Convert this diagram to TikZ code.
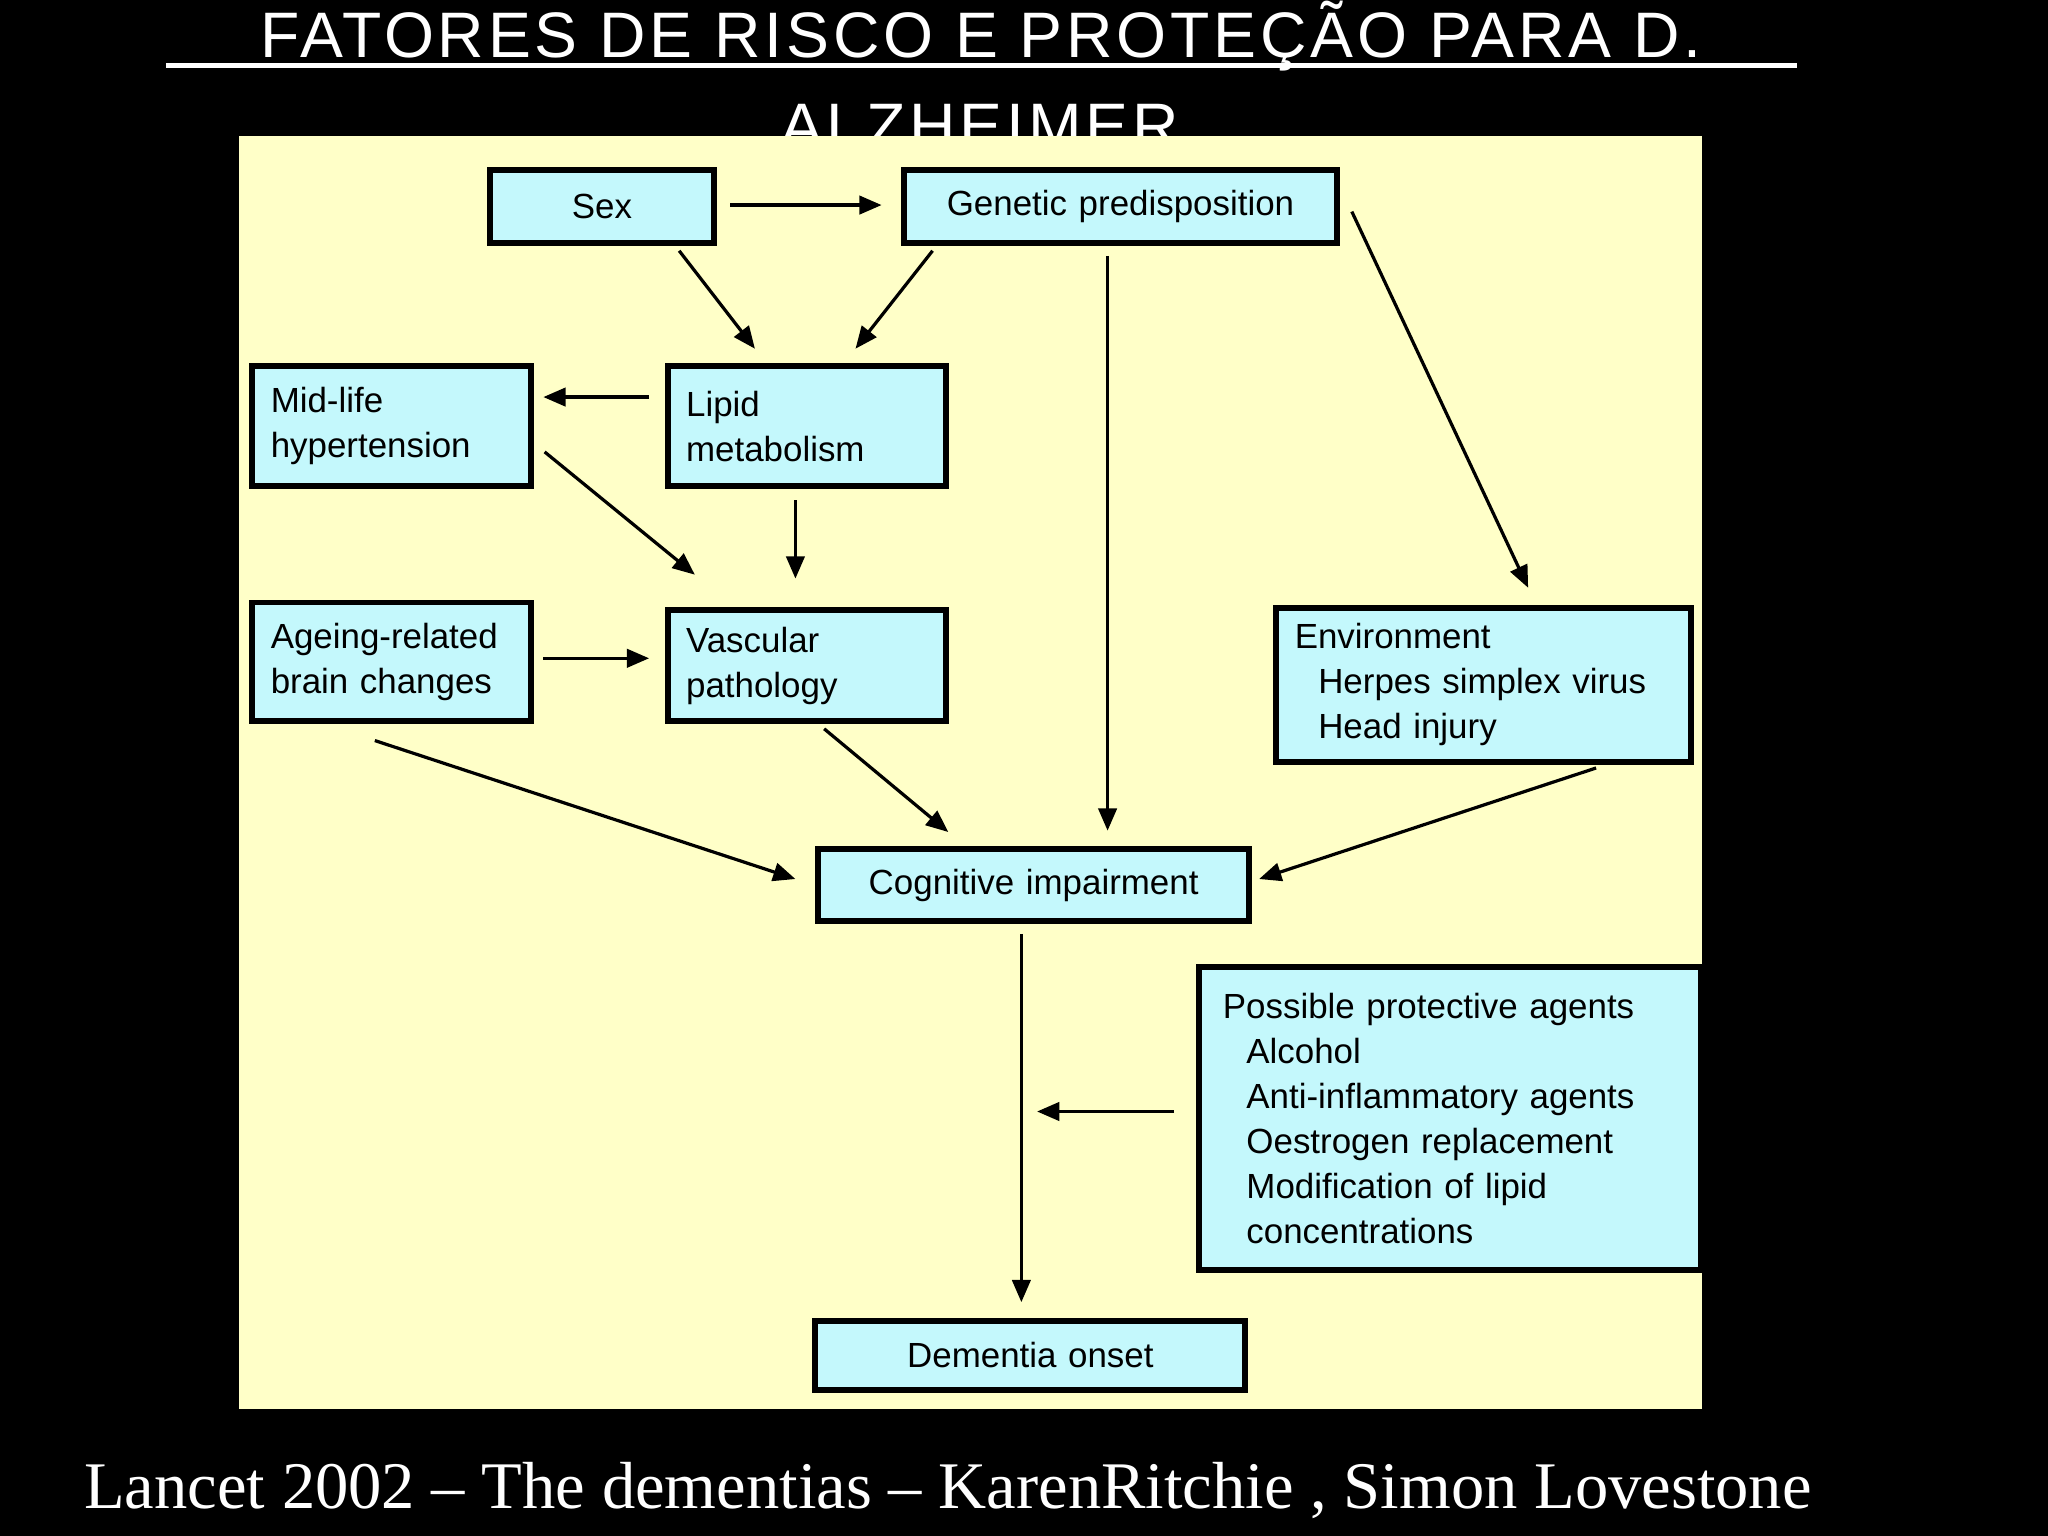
\documentclass[tikz,border=0pt]{standalone}
\usepackage{fontspec}
\setmainfont{Liberation Sans}
\newfontfamily\serifcite{Liberation Serif}
\usetikzlibrary{arrows.meta}
\definecolor{panel}{HTML}{FFFFC8}
\definecolor{boxc}{HTML}{C4F8FC}
\begin{document}
\begin{tikzpicture}[x=0.01cm,y=-0.01cm,
  bx/.style={draw=black,line width=1.3pt,fill=boxc,anchor=north west,inner xsep=0.14cm,inner ysep=0pt,align=left,font=\fontsize{7.6pt}{9.8pt}\selectfont},
  ar/.style={-{Triangle[length=0.17cm,width=0.14cm]},line width=0.7pt}]
\fill[black] (0,0) rectangle (1568,1176);
\useasboundingbox (0,0) rectangle (1568,1176);
\node[white,font=\fontsize{14pt}{17pt}\selectfont\addfontfeatures{LetterSpace=6}] (t1) at (751,28) {FATORES DE RISCO E PROTEÇÃO PARA D.};
\draw[white,line width=1.2pt] (127,50) -- (1376,50);
\node[white,font=\fontsize{14pt}{17pt}\selectfont\addfontfeatures{LetterSpace=6}] (t2) at (750,97) {ALZHEIMER};
\fill[panel] (183,104) rectangle (1303,1079);
\node[bx,minimum width=1.71cm,minimum height=0.56cm,align=center,text width=1.43cm] (sex) at (373,128) {Sex};
\node[bx,minimum width=3.31cm,minimum height=0.56cm,align=center,text width=3.03cm] (gen) at (690,128) {Genetic predisposition};
\node[bx,minimum width=2.13cm,minimum height=0.92cm,text width=1.85cm] (mid) at (191,278) {Mid-life\\hypertension};
\node[bx,minimum width=2.13cm,minimum height=0.92cm,text width=1.85cm] (lip) at (509,278) {Lipid\\metabolism};
\node[bx,minimum width=2.13cm,minimum height=0.91cm,text width=1.85cm] (age) at (191,459) {Ageing-related\\brain changes};
\node[bx,minimum width=2.13cm,minimum height=0.85cm,text width=1.85cm] (vas) at (509,465) {Vascular\\pathology};
\node[bx,minimum width=3.17cm,minimum height=1.18cm,text width=2.89cm] (env) at (975,463) {Environment\\\hspace*{0.18cm}Herpes simplex virus\\\hspace*{0.18cm}Head injury};
\node[bx,minimum width=3.30cm,minimum height=0.55cm,align=center,text width=3.02cm] (cog) at (624,648) {Cognitive impairment};
\node[bx,minimum width=3.76cm,minimum height=2.32cm,text width=3.48cm,inner xsep=0.18cm] (pro) at (916,738) {Possible protective agents\\\hspace*{0.18cm}Alcohol\\\hspace*{0.18cm}Anti-inflammatory agents\\\hspace*{0.18cm}Oestrogen replacement\\\hspace*{0.18cm}Modification of lipid\\\hspace*{0.18cm}concentrations};
\node[bx,minimum width=3.29cm,minimum height=0.53cm,align=center,text width=3.01cm] (dem) at (622,1009) {Dementia onset};
\foreach \n/\a/\b/\c/\d in {a1/559/157/675/157, a2/520/192/578/267, a3/714/192/655/267,
  a4/497/304/416/304, a5/417/346/532/440, a6/609/383/609/443, a7/416/504/497/504,
  a8/848/196/848/636, a9/1035/162/1170/450, a10/287/567/609/673, a11/631/558/726/637,
  a12/1222/588/964/673, a13/782/715/782/997, a14/899/851/794/851}{
  \coordinate (\n s) at (\a,\b); \coordinate (\n e) at (\c,\d);
  \draw[ar] (\n s) -- (\n e);}
\node[white,font=\serifcite\fontsize{14.5pt}{17pt}\selectfont,anchor=west] (cite) at (52,1141) {Lancet 2002 – The dementias – KarenRitchie , Simon Lovestone};
\end{tikzpicture}
\end{document}
